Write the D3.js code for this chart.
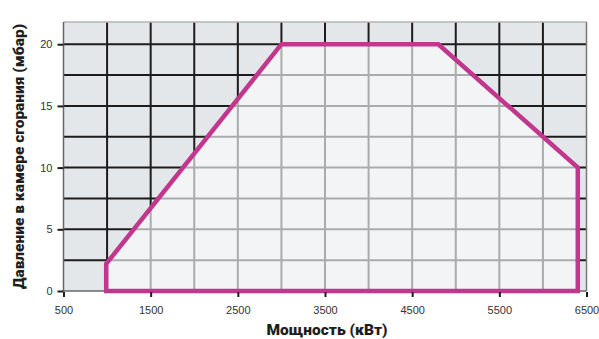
<!DOCTYPE html>
<html><head><meta charset="utf-8">
<script src="https://cdn.jsdelivr.net/npm/d3@7"></script>
<style>
html,body{margin:0;padding:0;background:#fff;}
svg{display:block;}
</style></head>
<body>
<svg id="chart" width="599" height="339"></svg>
<script>
// Data
const xTicks = [500, 1500, 2500, 3500, 4500, 5500, 6500];
const yTicks = [0, 5, 10, 15, 20];
const xGrid = [1000, 1500, 2000, 2500, 3000, 3500, 4000, 4500, 5000, 5500, 6000];
const yGrid = [2.5, 5, 7.5, 10, 12.5, 15, 17.5, 20];
const envPower = [990, 990, 3000, 4800, 6400, 6400];
const envPressure = [0, 2.2, 20, 20, 10, 0];
const xTitle = "Мощность (кВт)";
const yTitle = "Давление в камере сгорания (мбар)";

const svg = d3.select("#chart");
const L = 63.5, R = 586.5, T = 22, B = 291;
const x = d3.scaleLinear().domain([500, 6500]).range([L, R]);
const y = d3.scaleLinear().domain([0, 21.8]).range([B, T]);

const pts = envPower.map((p, i) => [x(p), y(envPressure[i])]);

// background
svg.append("rect").attr("x", L).attr("y", T).attr("width", R - L).attr("height", B - T).attr("fill", "#e4e7ea");

// dark grid
const gDark = svg.append("g").attr("stroke", "#1c1c1c").attr("stroke-width", 2);
gDark.selectAll("line.v").data(xGrid).join("line").attr("x1", d => x(d)).attr("x2", d => x(d)).attr("y1", T).attr("y2", B);
gDark.selectAll("line.h").data(yGrid).join("line").attr("y1", d => y(d)).attr("y2", d => y(d)).attr("x1", L).attr("x2", R);

// clip for polygon
svg.append("clipPath").attr("id", "env").append("polygon").attr("points", pts.map(p => p.join(",")).join(" "));
const inside = svg.append("g").attr("clip-path", "url(#env)");
inside.append("rect").attr("x", L).attr("y", T).attr("width", R - L).attr("height", B - T).attr("fill", "#f3f4f6");
const gLight = inside.append("g").attr("stroke", "#ababab").attr("stroke-width", 2);
gLight.selectAll("line.v").data(xGrid).join("line").attr("x1", d => x(d)).attr("x2", d => x(d)).attr("y1", T).attr("y2", B);
gLight.selectAll("line.h").data(yGrid).join("line").attr("y1", d => y(d)).attr("y2", d => y(d)).attr("x1", L).attr("x2", R);

// frame
svg.append("line").attr("x1", L).attr("x2", R).attr("y1", T).attr("y2", T).attr("stroke", "#b5b5b5").attr("stroke-width", 1.5);
svg.append("line").attr("x1", R).attr("x2", R).attr("y1", T).attr("y2", B).attr("stroke", "#777").attr("stroke-width", 1.5);
svg.append("line").attr("x1", L).attr("x2", L).attr("y1", T).attr("y2", B).attr("stroke", "#666").attr("stroke-width", 1.5);
svg.append("line").attr("x1", L).attr("x2", R).attr("y1", B).attr("y2", B).attr("stroke", "#666").attr("stroke-width", 1.5);

// envelope outline
svg.append("polygon").attr("points", pts.map(p => p.join(",")).join(" "))
  .attr("fill", "none").attr("stroke", "#c1378e").attr("stroke-width", 4.5).attr("stroke-linejoin", "miter");

// axes
const xAxis = d3.axisBottom(x).tickValues(xTicks).tickSize(5).tickPadding(9).tickFormat(d3.format("d"));
const gx = svg.append("g").attr("transform", `translate(0,${B + 1})`).call(xAxis);
gx.select(".domain").remove();
gx.selectAll(".tick line").attr("stroke", "#1c1c1c").attr("stroke-width", 2);
gx.selectAll(".tick text").attr("font-family", "Liberation Sans, Arial, sans-serif").attr("font-size", 11).attr("fill", "#333");

const yAxis = d3.axisLeft(y).tickValues(yTicks).tickSize(6).tickPadding(5);
const gy = svg.append("g").attr("transform", `translate(${L},0)`).call(yAxis);
gy.select(".domain").remove();
gy.selectAll(".tick line").attr("stroke", "#1c1c1c").attr("stroke-width", 2);
gy.selectAll(".tick text").attr("font-family", "Liberation Sans, Arial, sans-serif").attr("font-size", 11).attr("fill", "#333");

// titles
svg.append("text").attr("x", 327).attr("y", 335).attr("text-anchor", "middle")
  .attr("font-family", "Roboto, sans-serif").attr("font-weight", 900).attr("font-size", 15.5).attr("fill", "#1e1e1e").text(xTitle);
svg.append("text").attr("transform", `translate(23.5,${(T + B) / 2 + 0}) rotate(-90)`).attr("text-anchor", "middle")
  .attr("font-family", "Roboto, sans-serif").attr("font-weight", 900).attr("font-size", 15.5).attr("fill", "#1e1e1e").text(yTitle);
</script>
</body></html>
